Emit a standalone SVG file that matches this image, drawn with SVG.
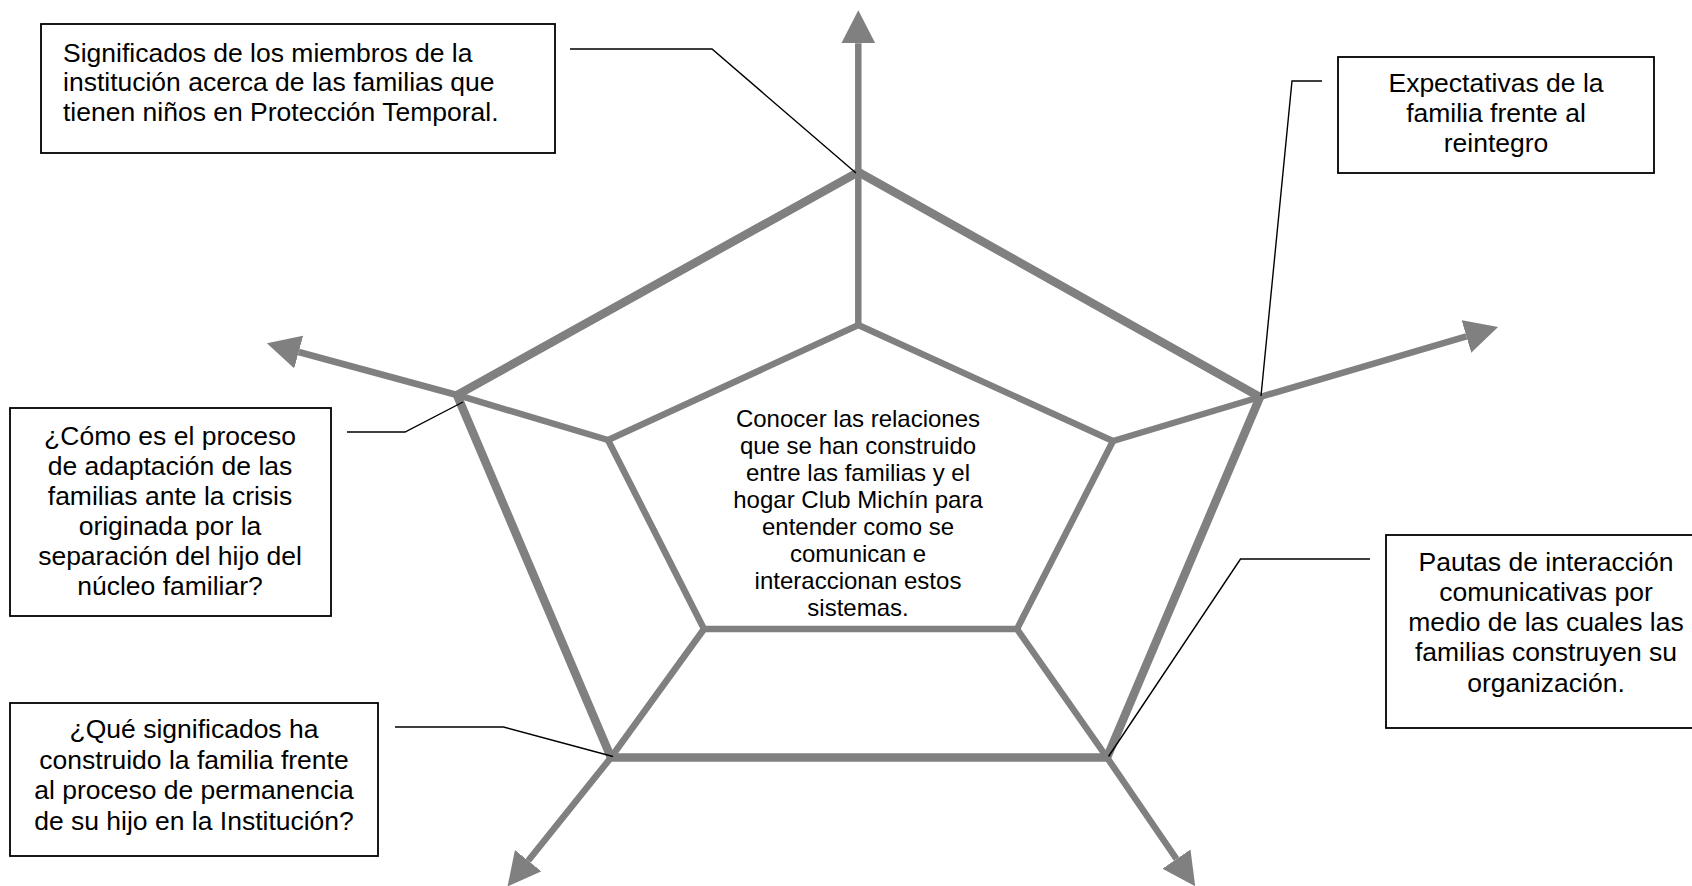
<svg xmlns="http://www.w3.org/2000/svg" width="1692" height="886" viewBox="0 0 1692 886">
<defs>
<style>
.ring{fill:none;stroke:#808080;stroke-linejoin:miter;stroke-miterlimit:10}
.outer{stroke-width:8.5}
.inner{stroke-width:6.5}
.spoke{fill:none;stroke:#808080;stroke-width:6.5;stroke-linejoin:miter;marker-end:url(#ah)}
.box{fill:#fff;stroke:#000;stroke-width:1.8}
.lead{fill:none;stroke:#000;stroke-width:1.4}
.t{font-family:"Liberation Sans",Arial,sans-serif;font-size:26.5px;fill:#000}
.c{text-anchor:middle}
.ct{font-size:24px}
</style>
<marker id="ah" markerUnits="userSpaceOnUse" viewBox="0 0 33 34" refX="0" refY="17" markerWidth="33" markerHeight="34" orient="auto">
<path d="M0,0 L33,17 L0,34 z" fill="#808080"/>
</marker>
</defs>
<rect width="1692" height="886" fill="#fff"/>

<g id="frame">
<polygon class="ring outer" points="858.3,172 1260,397 1107,757.5 611,757.5 457,395"/>
<polygon class="ring inner" points="858.3,325 1113,441 1017,629 704,629 608,440"/>
<polyline class="spoke" points="858.3,325 858.3,172 858.3,43.3"/>
<polyline class="spoke" points="1113,441 1260,397 1466.4,336.4"/>
<polyline class="spoke" points="608,440 457,395 298.7,352"/>
<polyline class="spoke" points="704,629 611,757.5 528.2,860.7"/>
<polyline class="spoke" points="1017,629 1107,757.5 1176.5,859"/>
</g>

<g id="center">
<text class="t c ct" x="858" y="427">Conocer las relaciones</text>
<text class="t c ct" x="858" y="454">que se han construido</text>
<text class="t c ct" x="858" y="481">entre las familias y el</text>
<text class="t c ct" x="858" y="508">hogar Club Michín para</text>
<text class="t c ct" x="858" y="535">entender como se</text>
<text class="t c ct" x="858" y="562">comunican e</text>
<text class="t c ct" x="858" y="589">interaccionan estos</text>
<text class="t c ct" x="858" y="616">sistemas.</text>
</g>

<g id="box-significados">
<rect class="box" x="41" y="24" width="514" height="129"/>
<text class="t" x="63" y="61.5">Significados de los miembros de la</text>
<text class="t" x="63" y="91">institución acerca de las familias que</text>
<text class="t" x="63" y="120.5">tienen niños en Protección Temporal.</text>
</g>

<g id="box-expectativas">
<rect class="box" x="1338" y="57" width="316" height="116"/>
<text class="t c" x="1496" y="91.7">Expectativas de la</text>
<text class="t c" x="1496" y="121.7">familia frente al</text>
<text class="t c" x="1496" y="151.7">reintegro</text>
</g>

<g id="box-adaptacion">
<rect class="box" x="10" y="408" width="321" height="208"/>
<text class="t c" x="170" y="445">¿Cómo es el proceso</text>
<text class="t c" x="170" y="475">de adaptación de las</text>
<text class="t c" x="170" y="505">familias ante la crisis</text>
<text class="t c" x="170" y="535">originada por la</text>
<text class="t c" x="170" y="565">separación del hijo del</text>
<text class="t c" x="170" y="595">núcleo familiar?</text>
</g>

<g id="box-permanencia">
<rect class="box" x="10" y="703" width="368" height="153"/>
<text class="t c" x="194" y="738">¿Qué significados ha</text>
<text class="t c" x="194" y="768.5">construido la familia frente</text>
<text class="t c" x="194" y="799">al proceso de permanencia</text>
<text class="t c" x="194" y="829.5">de su hijo en la Institución?</text>
</g>

<g id="box-pautas">
<rect class="box" x="1386" y="535" width="320" height="193"/>
<text class="t c" x="1546" y="570.5">Pautas de interacción</text>
<text class="t c" x="1546" y="600.7">comunicativas por</text>
<text class="t c" x="1546" y="631">medio de las cuales las</text>
<text class="t c" x="1546" y="661.2">familias construyen su</text>
<text class="t c" x="1546" y="691.5">organización.</text>
</g>

<g id="connectors">
<polyline class="lead" points="570,49 712,49 856,173"/>
<polyline class="lead" points="1322,81 1292,81 1261,396"/>
<polyline class="lead" points="347,432 405,432 463,402"/>
<polyline class="lead" points="395,727 503.5,727 613,756.5"/>
<polyline class="lead" points="1370,559 1240.5,559 1108.5,756.5"/>
</g>
</svg>
